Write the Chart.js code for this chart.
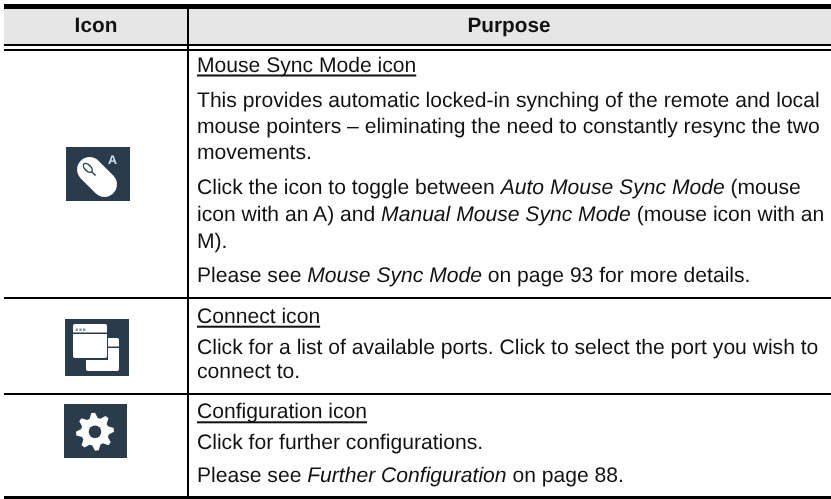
<!DOCTYPE html>
<html>
<head>
<meta charset="utf-8">
<style>
  html, body { margin: 0; padding: 0; background: #fff; }
  canvas { display: block; }
</style>
<script src="https://cdn.jsdelivr.net/npm/chart.js@4"></script>
</head>
<body>
<canvas id="chart" width="831" height="499"></canvas>
<script>
// table text, _ switches italic on and off
const headerLabels = ["Icon", "Purpose"];
const rowIcons = ["mouse", "windows", "gear"];
const rowTitles = ["Mouse Sync Mode icon", "Connect icon", "Configuration icon"];
const mouseLines = [
  "This provides automatic locked-in synching of the remote and local",
  "mouse pointers – eliminating the need to constantly resync the two",
  "movements.",
  "Click the icon to toggle between _Auto Mouse Sync Mode_ (mouse",
  "icon with an A) and _Manual Mouse Sync Mode_ (mouse icon with an",
  "M).",
  "Please see _Mouse Sync Mode_ on page 93 for more details."
];
const connectLines = [
  "Click for a list of available ports. Click to select the port you wish to",
  "connect to."
];
const configLines = [
  "Click for further configurations.",
  "Please see _Further Configuration_ on page 88."
];

const FONT = '"Liberation Sans", Arial, sans-serif';
const BODY_SIZE = "21.1px ";
const INK = "#111";
const TILE = "#2a3b4c";

// ---------- text
function drawRuns(ctx, line, x, y) {
  line.split("_").forEach((run, i) => {
    ctx.font = (i % 2 ? "italic " : "") + BODY_SIZE + FONT;
    ctx.fillText(run, x, y);
    x += ctx.measureText(run).width;
  });
}

function drawTitle(ctx, text, x, y) {
  ctx.font = BODY_SIZE + FONT;
  ctx.fillText(text, x, y);
  ctx.fillRect(x, y + 3, ctx.measureText(text).width, 2);
}

// ---------- icons
function drawMouse(ctx) {
  ctx.fillStyle = TILE;
  ctx.fillRect(66, 147, 64, 54);
  ctx.save();
  ctx.translate(97, 177);
  ctx.rotate(Math.PI / 4);
  ctx.fillStyle = "#fff";
  ctx.beginPath();
  ctx.roundRect(-23, -12.5, 46, 25, 12.5);
  ctx.fill();
  ctx.strokeStyle = TILE;
  ctx.lineWidth = 1.4;
  ctx.beginPath();
  ctx.ellipse(-13, 0, 5.5, 3, 0, 0, Math.PI * 2);
  ctx.moveTo(-7.5, 0);
  ctx.lineTo(-2, 0);
  ctx.stroke();
  ctx.restore();
  ctx.fillStyle = "#d6e4f0";
  ctx.font = "bold 12.5px " + FONT;
  ctx.textAlign = "center";
  ctx.fillText("A", 112.5, 163.7);
  ctx.textAlign = "left";
}

function drawWindows(ctx) {
  ctx.fillStyle = TILE;
  ctx.fillRect(65, 319, 64, 57);
  ctx.fillStyle = "#fff";
  ctx.beginPath();
  ctx.roundRect(86, 338, 33, 33, 2);
  ctx.fill();
  ctx.fillStyle = TILE;
  ctx.fillRect(84, 336, 24, 24);
  ctx.fillRect(108, 346.5, 11, 1.5);
  ctx.fillStyle = "#fff";
  ctx.beginPath();
  ctx.roundRect(73, 324, 34, 34, 2);
  ctx.fill();
  ctx.fillStyle = TILE;
  ctx.fillRect(73, 332.5, 34, 1.5);
  ctx.fillStyle = "#7f96a8";
  ctx.fillRect(75.5, 328.5, 2.4, 2.4);
  ctx.fillRect(79.3, 328.5, 2.4, 2.4);
  ctx.fillRect(83, 328.5, 2.4, 2.4);
}

function drawGear(ctx) {
  const cx = 95, cy = 431.7, teeth = 8;
  ctx.fillStyle = TILE;
  ctx.fillRect(64, 404, 63, 54);
  ctx.fillStyle = "#fff";
  ctx.beginPath();
  for (let i = 0; i < teeth * 4; i++) {
    const a = (i / (teeth * 4)) * Math.PI * 2 - Math.PI / 2 - Math.PI / 16;
    const r = i % 4 < 2 ? 19 : 14;
    ctx.lineTo(cx + r * Math.cos(a), cy + r * Math.sin(a));
  }
  ctx.closePath();
  ctx.fill();
  ctx.fillStyle = TILE;
  ctx.beginPath();
  ctx.arc(cx, cy, 6.3, 0, Math.PI * 2);
  ctx.fill();
}

const iconPainters = { mouse: drawMouse, windows: drawWindows, gear: drawGear };

// the table has no scale of its own, so it is painted after the empty chart
const tablePlugin = {
  id: "manualTable",
  afterDraw(chart) {
    const ctx = chart.ctx;
    ctx.save();

    // header band and rules
    ctx.fillStyle = "#e6e6e6";
    ctx.fillRect(4, 9, 827, 35);
    ctx.fillStyle = "#000";
    ctx.fillRect(4, 4, 827, 5);
    ctx.fillRect(4, 44, 827, 2);
    ctx.fillRect(4, 49, 827, 2);
    ctx.fillRect(4, 297, 827, 2);
    ctx.fillRect(4, 393, 827, 2);
    ctx.fillRect(4, 496, 827, 3);
    ctx.fillRect(187, 9, 2, 487);

    // source is a soft scan, text and icons get a slight blur
    ctx.filter = "blur(0.35px)";
    ctx.textRendering = "geometricPrecision";

    // header
    ctx.fillStyle = INK;
    ctx.textBaseline = "alphabetic";
    ctx.textAlign = "center";
    ctx.font = "bold 20.8px " + FONT;
    ctx.fillText(headerLabels[0], 96, 32.3);
    ctx.fillText(headerLabels[1], 509, 32.3);
    ctx.textAlign = "left";

    // first row
    const textX = 197;
    drawTitle(ctx, rowTitles[0], textX, 71.5);
    const mouseY = [106.7, 133.3, 159.3, 194, 220.7, 248, 281.7];
    mouseLines.forEach((l, i) => drawRuns(ctx, l, textX, mouseY[i]));

    // second row
    drawTitle(ctx, rowTitles[1], textX, 322.7);
    const connectY = [354, 378];
    connectLines.forEach((l, i) => drawRuns(ctx, l, textX, connectY[i]));

    // third row
    drawTitle(ctx, rowTitles[2], textX, 418.3);
    const configY = [449, 481.7];
    configLines.forEach((l, i) => drawRuns(ctx, l, textX, configY[i]));

    ctx.filter = "blur(0.5px)";
    rowIcons.forEach((name) => iconPainters[name](ctx));
    ctx.restore();
  }
};

new Chart(document.getElementById("chart").getContext("2d"), {
  type: "bar",
  data: { labels: rowTitles, datasets: [] },
  options: {
    responsive: false,
    animation: false,
    layout: { padding: 0 },
    plugins: { legend: { display: false }, tooltip: { enabled: false } },
    scales: { x: { display: false }, y: { display: false } }
  },
  plugins: [tablePlugin]
});
</script>
</body>
</html>
